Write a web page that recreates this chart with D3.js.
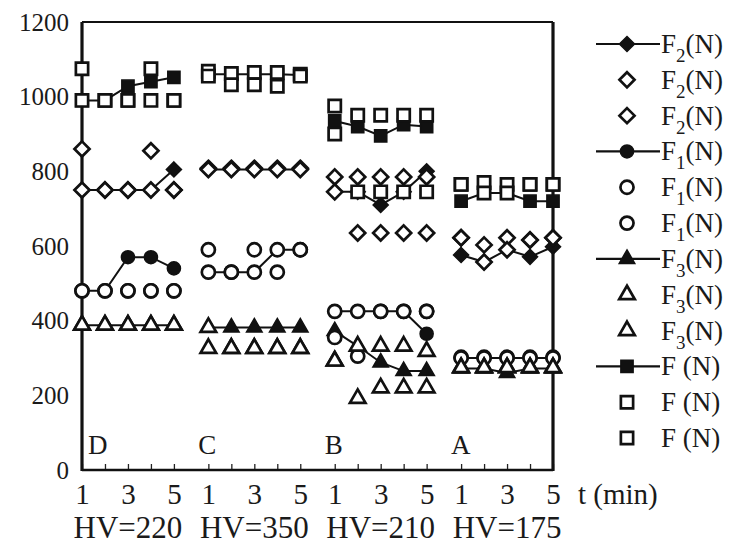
<!DOCTYPE html>
<html>
<head>
<meta charset="utf-8">
<script src="https://cdn.jsdelivr.net/npm/d3@7"></script>
<style>
  html, body { margin: 0; padding: 0; background: #fff; }
  svg { display: block; }
  text { font-family: "Liberation Serif", "DejaVu Serif", serif; fill: #1a1a1a; }
</style>
</head>
<body>
<svg id="chart" width="731" height="545"></svg>
<script>
// ---------------- data ----------------
const groups = ["D", "C", "B", "A"];
const hvLabels = ["HV=220", "HV=350", "HV=210", "HV=175"];
const times = [1, 2, 3, 4, 5];
const yTicks = [0, 200, 400, 600, 800, 1000, 1200];
const xTickLabels = ["1", "", "3", "", "5"];

// each array: D1..D5, C1..C5, B1..B5, A1..A5
const F2_line = [750, 750, 750, 750, 805,  805, 805, 805, 805, 805,  745, 745, 710, 745, 800,  576, 557, 590, 571, 598];
const F2_o1   = [860, 750, 750, 855, 750,  808, 808, 808, 808, 808,  785, 785, 785, 785, 785,  622, 603, 622, 616, 622];
const F2_o2   = [750, 750, 750, 750, 750,  805, 805, 805, 805, 805,  745, 635, 635, 635, 635,  622, 557, 590, 616, 622];

const F1_line = [480, 480, 570, 570, 540,  530, 530, 530, 590, 590,  425, 425, 425, 425, 365,  300, 300, 300, 300, 300];
const F1_o1   = [480, 480, 480, 480, 480,  590, 530, 590, 590, 590,  425, 425, 425, 425, 425,  302, 302, 302, 302, 302];
const F1_o2   = [480, 480, 480, 480, 480,  530, 530, 530, 530, 590,  355, 305, 425, 425, 425,  300, 300, 300, 300, 300];

const F3_line = [388, 388, 388, 388, 388,  382, 382, 382, 382, 382,  372, 332, 288, 265, 265,  272, 272, 260, 272, 272];
const F3_o1   = [388, 388, 388, 388, 388,  382, 326, 326, 326, 326,  292, 332, 332, 332, 318,  274, 274, 274, 274, 274];
const F3_o2   = [388, 388, 388, 388, 388,  326, 326, 326, 326, 326,  292, 192, 220, 220, 220,  274, 274, 274, 274, 274];

const F_line  = [990, 990, 1028, 1040, 1052,  1060, 1060, 1060, 1060, 1058,  935, 920, 895, 925, 920,  720, 742, 742, 720, 720];
const F_o1    = [990, 990, 990, 990, 990,     1068, 1062, 1065, 1065, 1060,  975, 950, 950, 950, 950,  765, 770, 765, 765, 765];
const F_o2    = [1075, 990, 990, 1075, 990,   1055, 1032, 1032, 1028, 1055,  900, 745, 745, 745, 745,  765, 742, 742, 765, 765];

const legendSub = ["2", "2", "2", "1", "1", "1", "3", "3", "3", "", "", ""];

// ---------------- setup ----------------
const svg = d3.select("#chart");
const GROUP_STEP = 5.5;
const x = d3.scaleLinear().domain([0, 3 * GROUP_STEP + 4]).range([82, 553]);
const y = d3.scaleLinear().domain([0, 1200]).range([470, 22]);

// flattened positions
const positions = [];
groups.forEach((g, gi) => times.forEach(t => positions.push(gi * GROUP_STEP + (t - 1))));

const diamond = {
  draw(ctx, size) {
    const r = Math.sqrt(size) / 1.2;
    ctx.moveTo(0, -r); ctx.lineTo(r, 0); ctx.lineTo(0, r); ctx.lineTo(-r, 0); ctx.closePath();
  }
};
const shapes = {
  diamond: d3.symbol().type(diamond).size(82),
  circle: d3.symbol().type(d3.symbolCircle).size(135),
  triangle: d3.symbol().type(d3.symbolTriangle).size(105),
  square: d3.symbol().type(d3.symbolSquare).size(150)
};

const series = [
  { vals: F2_line, shape: "diamond", filled: true },
  { vals: F2_o1, shape: "diamond", filled: false },
  { vals: F2_o2, shape: "diamond", filled: false },
  { vals: F1_line, shape: "circle", filled: true },
  { vals: F1_o1, shape: "circle", filled: false },
  { vals: F1_o2, shape: "circle", filled: false },
  { vals: F3_line, shape: "triangle", filled: true },
  { vals: F3_o1, shape: "triangle", filled: false },
  { vals: F3_o2, shape: "triangle", filled: false },
  { vals: F_line, shape: "square", filled: true },
  { vals: F_o1, shape: "square", filled: false },
  { vals: F_o2, shape: "square", filled: false }
];

// ---------------- axes ----------------
const yAxis = d3.axisLeft(y).tickValues(yTicks).tickSize(0).tickPadding(13).tickFormat(d3.format("d"));
const gy = svg.append("g").attr("transform", `translate(${x(0)},0)`).call(yAxis);
gy.select(".domain").remove();
gy.selectAll("text").style("font-size", "25px");

const xAxis = d3.axisBottom(x).tickValues(positions).tickSize(-6).tickPadding(13)
  .tickFormat((d, i) => xTickLabels[i % 5]);
const gx = svg.append("g").attr("transform", `translate(0,${y(0)})`).call(xAxis);
gx.select(".domain").remove();
gx.selectAll(".tick line").attr("stroke", "#222").attr("stroke-width", 1.3);
gx.selectAll("text").style("font-size", "29px");

// frame
const frame = svg.append("g").attr("fill", "none").attr("stroke", "#111");
frame.append("line").attr("x1", x.range()[0]).attr("x2", x.range()[0]).attr("y1", y(1200)).attr("y2", y(0) + 1).attr("stroke-width", 3.2);
frame.append("line").attr("x1", x.range()[1]).attr("x2", x.range()[1]).attr("y1", y(1200)).attr("y2", y(0) + 1).attr("stroke-width", 3.2);
frame.append("line").attr("x1", x.range()[0]).attr("x2", x.range()[1]).attr("y1", y(1200)).attr("y2", y(1200)).attr("stroke-width", 2.2);
frame.append("line").attr("x1", x.range()[0]).attr("x2", x.range()[1]).attr("y1", y(0)).attr("y2", y(0)).attr("stroke-width", 2.5);

// t (min)
svg.append("text").attr("x", 578).attr("y", y(0) + 13).attr("dy", "0.71em").style("font-size", "29px").text("t (min)");

// HV labels
svg.selectAll(".hv").data(hvLabels).join("text").attr("class", "hv")
  .attr("x", (d, i) => x(i * GROUP_STEP + 2)).attr("y", 538)
  .attr("text-anchor", "middle").style("font-size", "31px").text(d => d);

// group letters
svg.selectAll(".grp").data(groups).join("text").attr("class", "grp")
  .attr("x", (d, i) => Math.max(x(0) + 6, x(i * GROUP_STEP) - 10)).attr("y", 454)
  .style("font-size", "27px").text(d => d);

// ---------------- data marks ----------------
const plot = svg.append("g");
const lineGen = d3.line().x(d => x(d.p)).y(d => y(d.v));

// lines (per group)
series.filter(s => s.filled).forEach(s => {
  groups.forEach((g, gi) => {
    const pts = times.map((t, ti) => ({ p: positions[gi * 5 + ti], v: s.vals[gi * 5 + ti] }));
    plot.append("path").attr("d", lineGen(pts)).attr("fill", "none").attr("stroke", "#111").attr("stroke-width", 2);
  });
});

function drawMarkers(s) {
  plot.append("g").selectAll("path").data(s.vals).join("path")
    .attr("transform", (v, i) => `translate(${x(positions[i])},${y(v)})`)
    .attr("d", shapes[s.shape])
    .attr("fill", s.filled ? "#111" : "#fff")
    .attr("stroke", "#111")
    .attr("stroke-width", s.filled ? 1.5 : 2.7);
}
series.filter(s => s.filled).forEach(drawMarkers);
series.filter(s => !s.filled).forEach(drawMarkers);

// ---------------- legend ----------------
const ly = d3.scalePoint().domain(d3.range(series.length)).range([44, 438]);
const legend = svg.append("g");
series.forEach((s, i) => {
  const row = legend.append("g").attr("transform", `translate(0,${ly(i)})`);
  if (s.filled) {
    row.append("line").attr("x1", 596).attr("x2", 660).attr("stroke", "#111").attr("stroke-width", 2.2);
  }
  row.append("path").attr("transform", "translate(627,0)").attr("d", shapes[s.shape])
    .attr("fill", s.filled ? "#111" : "#fff").attr("stroke", "#111").attr("stroke-width", s.filled ? 1.5 : 2.7);
  const t = row.append("text").attr("x", 661).attr("y", 9).style("font-size", "27px");
  t.append("tspan").text("F");
  if (legendSub[i]) {
    t.append("tspan").attr("dy", 9).style("font-size", "19px").text(legendSub[i]);
    t.append("tspan").attr("dy", -9).text("(N)");
  } else {
    t.append("tspan").text(" (N)");
  }
});
</script>
</body>
</html>
